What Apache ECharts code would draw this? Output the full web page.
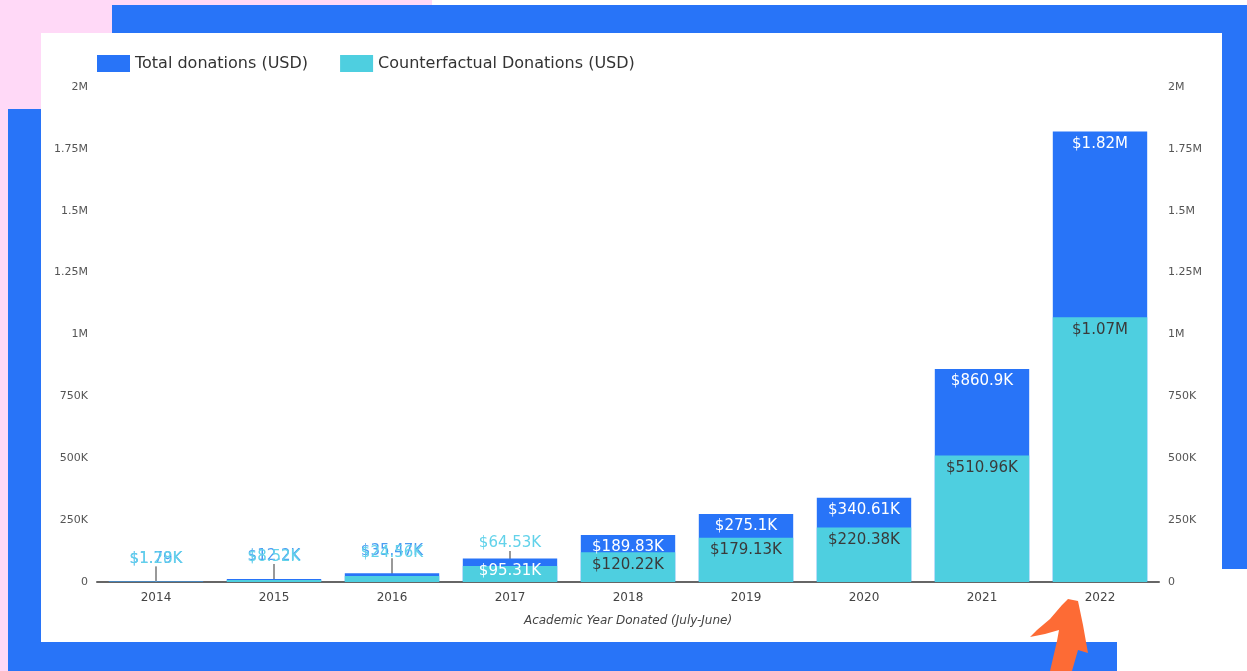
<!DOCTYPE html>
<html>
<head>
<meta charset="utf-8">
<script src="https://cdn.jsdelivr.net/npm/echarts@6/dist/echarts.min.js"></script>
<style>
  html, body { margin: 0; padding: 0; background: #fff; }
  #chart { width: 1247px; height: 671px; }
</style>
</head>
<body>
<div id="chart"></div>
<script>
const years = ['2014', '2015', '2016', '2017', '2018', '2019', '2020', '2021', '2022']
const totalDonations = [1790, 12200, 35470, 95310, 189830, 275100, 340610, 860900, 1820000]
const counterfactual = [1280, 8520, 24560, 64530, 120220, 179130, 220380, 510960, 1070000]
const yTickLabels = ['0', '250K', '500K', '750K', '1M', '1.25M', '1.5M', '1.75M', '2M']
const legendNames = ['Total donations (USD)', 'Counterfactual Donations (USD)']

const FONT = 'DejaVu Sans'
const BLUE = '#2874f8'
const CYAN = '#4ecfe0'
// bars shorter than these get their label above with a guide line
const SMALL_TOTAL = 40000
const SMALL_CF = 100000

function money(v) {
  if (v >= 1e6) return '$' + +(v / 1e6).toFixed(2) + 'M'
  return '$' + +(v / 1e3).toFixed(2) + 'K'
}

function tickLabel(v) {
  return yTickLabels[Math.round(v / 250000)] || ''
}

function buildItems(values, outerColor, innerColor, threshold) {
  return values.map(v => {
    const outside = v < threshold
    return {
      value: v,
      label: outside
        ? { position: 'top', distance: 6, color: outerColor }
        : { position: 'insideTop', distance: 5, color: innerColor }
    }
  })
}

const chart = echarts.init(document.getElementById('chart'))

const yAxisBase = {
  type: 'value',
  min: 0,
  max: 2000000,
  interval: 250000,
  splitLine: { show: false },
  axisLine: { show: false },
  axisTick: { show: false },
  axisLabel: {
    formatter: tickLabel,
    color: '#555',
    fontSize: 11,
    fontFamily: FONT,
    margin: 9
  }
}

chart.setOption({
  backgroundColor: 'transparent',
  textStyle: { fontFamily: FONT },
  animation: false,
  graphic: [
    { type: 'rect', z: -10, shape: { x: 0, y: 0, width: 432, height: 671 }, style: { fill: '#ffd9f7' } },
    { type: 'rect', z: -9, shape: { x: 112, y: 5, width: 1135, height: 564 }, style: { fill: BLUE } },
    { type: 'rect', z: -9, shape: { x: 8, y: 109, width: 1109, height: 562 }, style: { fill: BLUE } },
    { type: 'rect', z: -8, shape: { x: 41, y: 33, width: 1181, height: 609 }, style: { fill: '#ffffff' } },
    {
      type: 'polygon',
      z: 100,
      shape: {
        points: [[1068, 599], [1078, 601], [1083, 625], [1088, 653], [1078, 650], [1072, 671],
          [1050, 671], [1057, 641], [1059, 630], [1045, 634], [1030, 637], [1037, 630],
          [1050, 619], [1062, 605]]
      },
      style: { fill: '#fd6b35' }
    }
  ],
  legend: {
    left: 92,
    top: 50,
    itemWidth: 33,
    itemHeight: 17,
    itemGap: 32,
    icon: 'rect',
    textStyle: { fontSize: 16, color: '#333', fontFamily: FONT },
    data: legendNames
  },
  grid: {
    left: 97,
    right: 88,
    top: 87,
    bottom: 89
  },
  xAxis: {
    type: 'category',
    data: years,
    name: 'Academic Year Donated (July-June)',
    nameLocation: 'middle',
    nameGap: 33,
    nameTextStyle: { fontStyle: 'italic', fontSize: 12, color: '#444', fontFamily: FONT },
    axisLine: { lineStyle: { color: '#666', width: 2 } },
    axisTick: { show: false },
    axisLabel: { color: '#444', fontSize: 12, margin: 10, fontFamily: FONT }
  },
  yAxis: [
    Object.assign({}, yAxisBase, { position: 'left' }),
    Object.assign({}, yAxisBase, { position: 'right' })
  ],
  series: [
    {
      name: legendNames[0],
      type: 'bar',
      barWidth: '80%',
      barGap: '-100%',
      itemStyle: { color: BLUE },
      label: { show: true, formatter: p => money(p.value), fontSize: 15, fontFamily: FONT },
      labelLine: { show: true, lineStyle: { color: '#999', width: 2 } },
      labelLayout: p => (totalDonations[p.dataIndex] < SMALL_TOTAL ? { dy: -9 } : {}),
      data: buildItems(totalDonations, '#4a9cf2', '#ffffff', SMALL_TOTAL)
    },
    {
      name: legendNames[1],
      type: 'bar',
      barWidth: '80%',
      itemStyle: { color: CYAN },
      label: { show: true, formatter: p => money(p.value), fontSize: 15, fontFamily: FONT },
      labelLine: { show: true, lineStyle: { color: '#999', width: 2 } },
      labelLayout: p => (counterfactual[p.dataIndex] < SMALL_CF ? { dy: -9 } : {}),
      data: buildItems(counterfactual, '#62d2ea', '#3a3a3a', SMALL_CF)
    }
  ]
})
</script>
</body>
</html>
